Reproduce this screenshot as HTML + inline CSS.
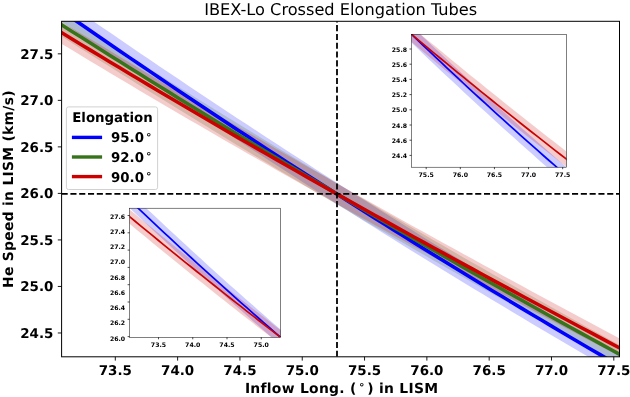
<!DOCTYPE html>
<html><head><meta charset="utf-8"><title>IBEX-Lo Crossed Elongation Tubes</title>
<style>html,body{margin:0;padding:0;background:#fff}svg{display:block;will-change:transform;text-rendering:geometricPrecision}</style></head>
<body>
<svg width="630" height="397" viewBox="0 0 630 397">
<defs><clipPath id="cm"><rect x="61.6" y="21.3" width="557.9" height="335.5"/></clipPath></defs>
<rect width="630" height="397" fill="#fff"/>
<g clip-path="url(#cm)">
<path d="M51.60,-7.73 L61.39,-0.92 L71.19,5.88 L80.98,12.65 L90.78,19.41 L100.57,26.15 L110.37,32.87 L120.16,39.57 L129.96,46.25 L139.75,52.91 L149.55,59.54 L159.34,66.16 L169.14,72.76 L178.93,79.34 L188.73,85.90 L198.52,92.44 L208.32,98.96 L218.11,105.47 L227.91,111.95 L237.70,118.41 L247.50,124.85 L257.29,131.27 L267.09,137.67 L276.88,144.05 L286.68,150.42 L296.47,156.76 L306.27,163.08 L316.06,169.38 L325.86,175.66 L335.65,181.93 L345.45,188.17 L355.24,194.39 L365.04,200.60 L374.83,206.78 L384.63,212.94 L394.42,219.09 L404.22,225.21 L414.01,231.31 L423.81,237.40 L433.60,243.46 L443.40,249.51 L453.19,255.53 L462.99,261.54 L472.78,267.52 L482.58,273.49 L492.37,279.43 L502.17,285.36 L511.96,291.27 L521.76,297.15 L531.55,303.02 L541.35,308.86 L551.14,314.69 L560.94,320.50 L570.73,326.29 L580.53,332.05 L590.32,337.80 L600.12,343.53 L609.91,349.23 L619.71,354.92 L629.50,360.58 L629.50,380.58 L619.71,374.92 L609.91,369.28 L600.12,363.61 L590.32,357.92 L580.53,352.22 L570.73,346.49 L560.94,340.75 L551.14,334.98 L541.35,329.20 L531.55,323.39 L521.76,317.57 L511.96,311.72 L502.17,305.86 L492.37,299.97 L482.58,294.07 L472.78,288.15 L462.99,282.20 L453.19,276.24 L443.40,270.26 L433.60,264.25 L423.81,258.23 L414.01,252.19 L404.22,246.13 L394.42,240.04 L384.63,233.94 L374.83,227.82 L365.04,221.68 L355.24,215.52 L345.45,209.33 L335.65,203.13 L325.86,196.91 L316.06,190.67 L306.27,184.40 L296.47,178.12 L286.68,171.82 L276.88,165.49 L267.09,159.15 L257.29,152.79 L247.50,146.41 L237.70,140.00 L227.91,133.58 L218.11,127.14 L208.32,120.68 L198.52,114.20 L188.73,107.70 L178.93,101.18 L169.14,94.63 L159.34,88.07 L149.55,81.49 L139.75,74.89 L129.96,68.27 L120.16,61.63 L110.37,54.97 L100.57,48.29 L90.78,41.60 L80.98,34.88 L71.19,28.14 L61.39,21.38 L51.60,14.57Z" fill="#0000ff" fill-opacity="0.2"/>
<path d="M51.60,6.79 L61.39,13.05 L71.19,19.32 L80.98,25.58 L90.78,31.82 L100.57,38.05 L110.37,44.26 L120.16,50.46 L129.96,56.64 L139.75,62.80 L149.55,68.94 L159.34,75.07 L169.14,81.19 L178.93,87.29 L188.73,93.37 L198.52,99.43 L208.32,105.48 L218.11,111.52 L227.91,117.54 L237.70,123.54 L247.50,129.52 L257.29,135.49 L267.09,141.44 L276.88,147.38 L286.68,153.30 L296.47,159.20 L306.27,165.09 L316.06,170.96 L325.86,176.82 L335.65,182.66 L345.45,188.49 L355.24,194.30 L365.04,200.09 L374.83,205.87 L384.63,211.63 L394.42,217.37 L404.22,223.10 L414.01,228.82 L423.81,234.51 L433.60,240.19 L443.40,245.86 L453.19,251.51 L462.99,257.14 L472.78,262.75 L482.58,268.35 L492.37,273.94 L502.17,279.51 L511.96,285.06 L521.76,290.59 L531.55,296.11 L541.35,301.62 L551.14,307.10 L560.94,312.57 L570.73,318.03 L580.53,323.47 L590.32,328.89 L600.12,334.30 L609.91,339.69 L619.71,345.06 L629.50,350.37 L629.50,368.97 L619.71,363.66 L609.91,358.37 L600.12,353.07 L590.32,347.75 L580.53,342.41 L570.73,337.06 L560.94,331.69 L551.14,326.31 L541.35,320.91 L531.55,315.49 L521.76,310.06 L511.96,304.61 L502.17,299.14 L492.37,293.66 L482.58,288.17 L472.78,282.65 L462.99,277.12 L453.19,271.58 L443.40,266.02 L433.60,260.44 L423.81,254.84 L414.01,249.23 L404.22,243.61 L394.42,237.97 L384.63,232.31 L374.83,226.63 L365.04,220.94 L355.24,215.23 L345.45,209.51 L335.65,203.77 L325.86,198.01 L316.06,192.22 L306.27,186.43 L296.47,180.61 L286.68,174.78 L276.88,168.94 L267.09,163.08 L257.29,157.20 L247.50,151.30 L237.70,145.39 L227.91,139.47 L218.11,133.52 L208.32,127.57 L198.52,121.59 L188.73,115.60 L178.93,109.59 L169.14,103.57 L159.34,97.53 L149.55,91.47 L139.75,85.40 L129.96,79.31 L120.16,73.21 L110.37,67.09 L100.57,60.95 L90.78,54.80 L80.98,48.63 L71.19,42.45 L61.39,36.25 L51.60,29.99Z" fill="#36731a" fill-opacity="0.2"/>
<path d="M51.60,15.96 L61.39,21.96 L71.19,27.77 L80.98,33.56 L90.78,39.33 L100.57,45.09 L110.37,51.02 L120.16,56.94 L129.96,62.83 L139.75,68.71 L149.55,74.57 L159.34,80.41 L169.14,86.23 L178.93,92.03 L188.73,97.82 L198.52,103.59 L208.32,109.34 L218.11,115.08 L227.91,120.79 L237.70,126.50 L247.50,132.18 L257.29,137.85 L267.09,143.51 L276.88,149.14 L286.68,154.77 L296.47,160.37 L306.27,165.96 L316.06,171.54 L325.86,177.10 L335.65,182.65 L345.45,188.20 L355.24,193.73 L365.04,199.25 L374.83,204.75 L384.63,210.25 L394.42,215.73 L404.22,221.19 L414.01,226.64 L423.81,232.08 L433.60,237.51 L443.40,242.93 L453.19,248.33 L462.99,253.72 L472.78,259.10 L482.58,264.47 L492.37,269.83 L502.17,275.17 L511.96,280.51 L521.76,285.83 L531.55,291.15 L541.35,296.45 L551.14,301.75 L560.94,307.03 L570.73,312.30 L580.53,317.57 L590.32,322.83 L600.12,328.07 L609.91,333.31 L619.71,338.54 L629.50,343.72 L629.50,361.52 L619.71,356.34 L609.91,351.21 L600.12,346.07 L590.32,340.92 L580.53,335.76 L570.73,330.59 L560.94,325.41 L551.14,320.22 L541.35,315.03 L531.55,309.82 L521.76,304.60 L511.96,299.37 L502.17,294.14 L492.37,288.89 L482.58,283.63 L472.78,278.36 L462.99,273.07 L453.19,267.78 L443.40,262.47 L433.60,257.15 L423.81,251.82 L414.01,246.48 L404.22,241.12 L394.42,235.76 L384.63,230.37 L374.83,224.98 L365.04,219.57 L355.24,214.15 L345.45,208.71 L335.65,203.26 L325.86,197.78 L316.06,192.28 L306.27,186.77 L296.47,181.25 L286.68,175.71 L276.88,170.15 L267.09,164.58 L257.29,158.99 L247.50,153.39 L237.70,147.77 L227.91,142.13 L218.11,136.48 L208.32,130.81 L198.52,125.12 L188.73,119.42 L178.93,113.70 L169.14,107.96 L159.34,102.21 L149.55,96.43 L139.75,90.64 L129.96,84.83 L120.16,79.00 L110.37,73.15 L100.57,67.29 L90.78,61.41 L80.98,55.51 L71.19,49.60 L61.39,43.66 L51.60,37.66Z" fill="#cc0000" fill-opacity="0.2"/>
<path d="M51.60,3.97 L61.39,10.78 L71.19,17.56 L80.98,24.33 L90.78,31.08 L100.57,37.81 L110.37,44.52 L120.16,51.20 L129.96,57.87 L139.75,64.52 L149.55,71.15 L159.34,77.76 L169.14,84.35 L178.93,90.92 L188.73,97.47 L198.52,104.00 L208.32,110.51 L218.11,117.00 L227.91,123.47 L237.70,129.92 L247.50,136.35 L257.29,142.76 L267.09,149.15 L276.88,155.52 L286.68,161.87 L296.47,168.20 L306.27,174.51 L316.06,180.80 L325.86,187.08 L335.65,193.33 L345.45,199.56 L355.24,205.77 L365.04,211.97 L374.83,218.14 L384.63,224.29 L394.42,230.43 L404.22,236.54 L414.01,242.63 L423.81,248.71 L433.60,254.76 L443.40,260.80 L453.19,266.81 L462.99,272.80 L472.78,278.78 L482.58,284.73 L492.37,290.67 L502.17,296.58 L511.96,302.48 L521.76,308.36 L531.55,314.21 L541.35,320.05 L551.14,325.86 L560.94,331.66 L570.73,337.44 L580.53,343.19 L590.32,348.93 L600.12,354.65 L609.91,360.35 L619.71,366.02 L629.50,371.68" fill="none" stroke="#0000ff" stroke-width="3.55"/>
<path d="M51.60,18.39 L61.39,24.65 L71.19,30.88 L80.98,37.10 L90.78,43.31 L100.57,49.49 L110.37,55.67 L120.16,61.82 L129.96,67.96 L139.75,74.09 L149.55,80.19 L159.34,86.28 L169.14,92.36 L178.93,98.42 L188.73,104.46 L198.52,110.49 L208.32,116.50 L218.11,122.49 L227.91,128.47 L237.70,134.43 L247.50,140.38 L257.29,146.31 L267.09,152.22 L276.88,158.12 L286.68,164.00 L296.47,169.87 L306.27,175.72 L316.06,181.55 L325.86,187.36 L335.65,193.17 L345.45,198.95 L355.24,204.72 L365.04,210.47 L374.83,216.21 L384.63,221.93 L394.42,227.63 L404.22,233.32 L414.01,238.99 L423.81,244.64 L433.60,250.28 L443.40,255.91 L453.19,261.51 L462.99,267.10 L472.78,272.68 L482.58,278.24 L492.37,283.78 L502.17,289.30 L511.96,294.81 L521.76,300.31 L531.55,305.79 L541.35,311.25 L551.14,316.69 L560.94,322.12 L570.73,327.54 L580.53,332.93 L590.32,338.31 L600.12,343.68 L609.91,349.03 L619.71,354.36 L629.50,359.67" fill="none" stroke="#36731a" stroke-width="3.55"/>
<path d="M51.60,26.46 L61.39,32.46 L71.19,38.45 L80.98,44.42 L90.78,50.36 L100.57,56.29 L110.37,62.20 L120.16,68.09 L129.96,73.96 L139.75,79.81 L149.55,85.64 L159.34,91.46 L169.14,97.25 L178.93,103.03 L188.73,108.79 L198.52,114.54 L208.32,120.27 L218.11,125.98 L227.91,131.67 L237.70,137.35 L247.50,143.01 L257.29,148.65 L267.09,154.28 L276.88,159.90 L286.68,165.49 L296.47,171.08 L306.27,176.64 L316.06,182.20 L325.86,187.73 L335.65,193.26 L345.45,198.76 L355.24,204.26 L365.04,209.74 L374.83,215.21 L384.63,220.66 L394.42,226.10 L404.22,231.53 L414.01,236.94 L423.81,242.35 L433.60,247.74 L443.40,253.11 L453.19,258.48 L462.99,263.83 L472.78,269.17 L482.58,274.50 L492.37,279.82 L502.17,285.13 L511.96,290.43 L521.76,295.71 L531.55,300.99 L541.35,306.26 L551.14,311.51 L560.94,316.76 L570.73,321.99 L580.53,327.22 L590.32,332.44 L600.12,337.65 L609.91,342.85 L619.71,348.04 L629.50,353.22" fill="none" stroke="#cc0000" stroke-width="3.55"/>
<path d="M61.6,193.8 H619.5" stroke="#000" stroke-width="1.8" stroke-dasharray="6.1 2.7" fill="none"/>
<path d="M337.0,356.8 V21.3" stroke="#000" stroke-width="1.8" stroke-dasharray="6.1 2.7" fill="none"/>
</g>
<rect x="61.6" y="21.3" width="557.9" height="335.5" fill="none" stroke="#000" stroke-width="1.0"/>
<g font-family="'DejaVu Sans','Liberation Sans',sans-serif" font-weight="bold" font-size="13.45" fill="#000">
<path d="M115.30,356.8 v3.8" stroke="#000" stroke-width="0.9"/>
<text x="115.30" y="374.7" text-anchor="middle">73.5</text>
<path d="M177.61,356.8 v3.8" stroke="#000" stroke-width="0.9"/>
<text x="177.61" y="374.7" text-anchor="middle">74.0</text>
<path d="M239.93,356.8 v3.8" stroke="#000" stroke-width="0.9"/>
<text x="239.93" y="374.7" text-anchor="middle">74.5</text>
<path d="M302.24,356.8 v3.8" stroke="#000" stroke-width="0.9"/>
<text x="302.24" y="374.7" text-anchor="middle">75.0</text>
<path d="M364.55,356.8 v3.8" stroke="#000" stroke-width="0.9"/>
<text x="364.55" y="374.7" text-anchor="middle">75.5</text>
<path d="M426.86,356.8 v3.8" stroke="#000" stroke-width="0.9"/>
<text x="426.86" y="374.7" text-anchor="middle">76.0</text>
<path d="M489.18,356.8 v3.8" stroke="#000" stroke-width="0.9"/>
<text x="489.18" y="374.7" text-anchor="middle">76.5</text>
<path d="M551.49,356.8 v3.8" stroke="#000" stroke-width="0.9"/>
<text x="551.49" y="374.7" text-anchor="middle">77.0</text>
<path d="M613.80,356.8 v3.8" stroke="#000" stroke-width="0.9"/>
<text x="613.80" y="374.7" text-anchor="middle">77.5</text>
<path d="M61.6,332.98 h-3.8" stroke="#000" stroke-width="0.9"/>
<text x="53.4" y="337.73" text-anchor="end">24.5</text>
<path d="M61.6,286.45 h-3.8" stroke="#000" stroke-width="0.9"/>
<text x="53.4" y="291.20" text-anchor="end">25.0</text>
<path d="M61.6,239.93 h-3.8" stroke="#000" stroke-width="0.9"/>
<text x="53.4" y="244.68" text-anchor="end">25.5</text>
<path d="M61.6,193.40 h-3.8" stroke="#000" stroke-width="0.9"/>
<text x="53.4" y="198.15" text-anchor="end">26.0</text>
<path d="M61.6,146.88 h-3.8" stroke="#000" stroke-width="0.9"/>
<text x="53.4" y="151.62" text-anchor="end">26.5</text>
<path d="M61.6,100.35 h-3.8" stroke="#000" stroke-width="0.9"/>
<text x="53.4" y="105.10" text-anchor="end">27.0</text>
<path d="M61.6,53.83 h-3.8" stroke="#000" stroke-width="0.9"/>
<text x="53.4" y="58.58" text-anchor="end">27.5</text>
<text x="244.9" y="393.2" font-size="13.9" letter-spacing="0.28">Inflow Long. (<tspan font-size="10.5" dx="1.9" dy="-4.9">&#8728;</tspan><tspan dx="1.9" dy="4.9">) in LISM</tspan></text>
<text transform="translate(13.2,189) rotate(-90)" text-anchor="middle" font-size="13.9" letter-spacing="0.28">He Speed in LISM (km/s)</text>
</g>
<text x="340.7" y="14.8" text-anchor="middle" font-family="'DejaVu Sans','Liberation Sans',sans-serif" font-size="16.18" fill="#000">IBEX-Lo Crossed Elongation Tubes</text>
<rect x="66.4" y="106.9" width="91.2" height="82.6" rx="2.2" fill="#fff" fill-opacity="0.8" stroke="#ccc" stroke-width="0.9"/>
<g font-family="'DejaVu Sans','Liberation Sans',sans-serif" font-weight="bold" font-size="13.35" fill="#000">
<text x="72.2" y="122.4">Elongation</text>
<path d="M71.9,137.40 H102.1" stroke="#0000ff" stroke-width="3.4"/>
<text x="111.0" y="142.30">95.0<tspan font-size="10.5" dx="1.6" dy="-4.6">&#8728;</tspan></text>
<path d="M71.9,157.00 H102.1" stroke="#36731a" stroke-width="3.4"/>
<text x="111.0" y="161.90">92.0<tspan font-size="10.5" dx="1.6" dy="-4.6">&#8728;</tspan></text>
<path d="M71.9,176.60 H102.1" stroke="#cc0000" stroke-width="3.4"/>
<text x="111.0" y="181.50">90.0<tspan font-size="10.5" dx="1.6" dy="-4.6">&#8728;</tspan></text>
</g>
<defs><clipPath id="c1"><rect x="129.6" y="208.2" width="151.00000000000003" height="129.10000000000002"/></clipPath></defs>
<rect x="129.6" y="208.2" width="151.00000000000003" height="129.10000000000002" fill="#fff"/>
<g clip-path="url(#c1)">
<path d="M124.60,187.54 L130.15,192.84 L135.70,198.12 L141.26,203.39 L146.81,208.64 L152.36,213.87 L157.91,219.08 L163.46,224.27 L169.01,229.44 L174.57,234.60 L180.12,239.73 L185.67,244.85 L191.22,249.95 L196.77,255.03 L202.32,260.09 L207.88,265.14 L213.43,270.16 L218.98,275.17 L224.53,280.16 L230.08,285.13 L235.63,290.08 L241.19,295.01 L246.74,299.93 L252.29,304.82 L257.84,309.70 L263.39,314.56 L268.94,319.40 L274.50,324.22 L280.05,329.02 L285.60,333.81 L285.60,349.41 L280.05,344.62 L274.50,339.82 L268.94,335.00 L263.39,330.16 L257.84,325.30 L252.29,320.42 L246.74,315.53 L241.19,310.61 L235.63,305.68 L230.08,300.73 L224.53,295.76 L218.98,290.77 L213.43,285.76 L207.88,280.74 L202.32,275.69 L196.77,270.63 L191.22,265.55 L185.67,260.45 L180.12,255.33 L174.57,250.20 L169.01,245.04 L163.46,239.87 L157.91,234.68 L152.36,229.47 L146.81,224.24 L141.26,218.99 L135.70,213.72 L130.15,208.44 L124.60,203.14Z" fill="#0000ff" fill-opacity="0.2"/>
<path d="M124.60,205.35 L130.15,209.96 L135.70,214.55 L141.26,219.13 L146.81,223.70 L152.36,228.26 L157.91,232.81 L163.46,237.34 L169.01,241.86 L174.57,246.37 L180.12,250.86 L185.67,255.35 L191.22,259.82 L196.77,264.28 L202.32,268.72 L207.88,273.16 L213.43,277.58 L218.98,281.99 L224.53,286.38 L230.08,290.77 L235.63,295.14 L241.19,299.50 L246.74,303.85 L252.29,308.18 L257.84,312.51 L263.39,316.82 L268.94,321.12 L274.50,325.40 L280.05,329.68 L285.60,333.94 L285.60,348.34 L280.05,344.08 L274.50,339.80 L268.94,335.52 L263.39,331.22 L257.84,326.91 L252.29,322.58 L246.74,318.25 L241.19,313.90 L235.63,309.54 L230.08,305.17 L224.53,300.78 L218.98,296.39 L213.43,291.98 L207.88,287.56 L202.32,283.12 L196.77,278.68 L191.22,274.22 L185.67,269.75 L180.12,265.26 L174.57,260.77 L169.01,256.26 L163.46,251.74 L157.91,247.21 L152.36,242.66 L146.81,238.10 L141.26,233.53 L135.70,228.95 L130.15,224.36 L124.60,219.75Z" fill="#cc0000" fill-opacity="0.2"/>
<path d="M124.60,195.34 L130.15,200.64 L135.70,205.92 L141.26,211.19 L146.81,216.44 L152.36,221.67 L157.91,226.88 L163.46,232.07 L169.01,237.24 L174.57,242.40 L180.12,247.53 L185.67,252.65 L191.22,257.75 L196.77,262.83 L202.32,267.89 L207.88,272.94 L213.43,277.96 L218.98,282.97 L224.53,287.96 L230.08,292.93 L235.63,297.88 L241.19,302.81 L246.74,307.73 L252.29,312.62 L257.84,317.50 L263.39,322.36 L268.94,327.20 L274.50,332.02 L280.05,336.82 L285.60,341.61" fill="none" stroke="#0000ff" stroke-width="1.7"/>
<path d="M124.60,212.55 L130.15,217.16 L135.70,221.75 L141.26,226.33 L146.81,230.90 L152.36,235.46 L157.91,240.01 L163.46,244.54 L169.01,249.06 L174.57,253.57 L180.12,258.06 L185.67,262.55 L191.22,267.02 L196.77,271.48 L202.32,275.92 L207.88,280.36 L213.43,284.78 L218.98,289.19 L224.53,293.58 L230.08,297.97 L235.63,302.34 L241.19,306.70 L246.74,311.05 L252.29,315.38 L257.84,319.71 L263.39,324.02 L268.94,328.32 L274.50,332.60 L280.05,336.88 L285.60,341.14" fill="none" stroke="#cc0000" stroke-width="1.7"/>
</g>
<rect x="129.6" y="208.2" width="151.00000000000003" height="129.10000000000002" fill="none" stroke="#000" stroke-width="0.5"/>
<g font-family="'DejaVu Sans','Liberation Sans',sans-serif" font-weight="bold" font-size="6.2" fill="#000">
<path d="M158.50,337.3 v2.0" stroke="#000" stroke-width="0.7"/>
<text x="158.50" y="347.20" text-anchor="middle">73.5</text>
<path d="M192.75,337.3 v2.0" stroke="#000" stroke-width="0.7"/>
<text x="192.75" y="347.20" text-anchor="middle">74.0</text>
<path d="M227.00,337.3 v2.0" stroke="#000" stroke-width="0.7"/>
<text x="227.00" y="347.20" text-anchor="middle">74.5</text>
<path d="M261.25,337.3 v2.0" stroke="#000" stroke-width="0.7"/>
<text x="261.25" y="347.20" text-anchor="middle">75.0</text>
<path d="M129.6,215.50 h-2.0" stroke="#000" stroke-width="0.7"/>
<path d="M129.6,232.80 h-2.0" stroke="#000" stroke-width="0.7"/>
<path d="M129.6,250.10 h-2.0" stroke="#000" stroke-width="0.7"/>
<path d="M129.6,267.40 h-2.0" stroke="#000" stroke-width="0.7"/>
<path d="M129.6,284.70 h-2.0" stroke="#000" stroke-width="0.7"/>
<path d="M129.6,302.00 h-2.0" stroke="#000" stroke-width="0.7"/>
<path d="M129.6,319.30 h-2.0" stroke="#000" stroke-width="0.7"/>
<path d="M129.6,336.60 h-2.0" stroke="#000" stroke-width="0.7"/>
<text x="125.20" y="218.60" text-anchor="end">27.6</text>
<text x="125.20" y="233.85" text-anchor="end">27.4</text>
<text x="125.20" y="249.10" text-anchor="end">27.2</text>
<text x="125.20" y="264.35" text-anchor="end">27.0</text>
<text x="125.20" y="279.60" text-anchor="end">26.8</text>
<text x="125.20" y="294.85" text-anchor="end">26.6</text>
<text x="125.20" y="310.10" text-anchor="end">26.4</text>
<text x="125.20" y="325.35" text-anchor="end">26.2</text>
<text x="125.20" y="340.60" text-anchor="end">26.0</text>
</g>
<defs><clipPath id="c2"><rect x="411.5" y="34.3" width="155.0" height="132.89999999999998"/></clipPath></defs>
<rect x="411.5" y="34.3" width="155.0" height="132.89999999999998" fill="#fff"/>
<g clip-path="url(#c2)">
<path d="M406.50,21.10 L412.19,26.56 L417.88,32.00 L423.57,37.43 L429.26,42.83 L434.95,48.22 L440.64,53.58 L446.33,58.93 L452.02,64.26 L457.71,69.56 L463.40,74.85 L469.09,80.12 L474.78,85.37 L480.47,90.60 L486.16,95.81 L491.84,101.00 L497.53,106.17 L503.22,111.33 L508.91,116.46 L514.60,121.57 L520.29,126.67 L525.98,131.74 L531.67,136.79 L537.36,141.83 L543.05,146.85 L548.74,151.84 L554.43,156.82 L560.12,161.78 L565.81,166.72 L571.50,171.64 L571.50,188.44 L565.81,183.52 L560.12,178.58 L554.43,173.62 L548.74,168.64 L543.05,163.65 L537.36,158.63 L531.67,153.59 L525.98,148.54 L520.29,143.47 L514.60,138.37 L508.91,133.26 L503.22,128.13 L497.53,122.97 L491.84,117.80 L486.16,112.61 L480.47,107.40 L474.78,102.17 L469.09,96.92 L463.40,91.65 L457.71,86.36 L452.02,81.06 L446.33,75.73 L440.64,70.38 L434.95,65.02 L429.26,59.63 L423.57,54.23 L417.88,48.80 L412.19,43.36 L406.50,37.90Z" fill="#0000ff" fill-opacity="0.2"/>
<path d="M406.50,22.41 L412.19,27.18 L417.88,31.93 L423.57,36.67 L429.26,41.40 L434.95,46.11 L440.64,50.81 L446.33,55.50 L452.02,60.18 L457.71,64.84 L463.40,69.49 L469.09,74.13 L474.78,78.75 L480.47,83.36 L486.16,87.96 L491.84,92.54 L497.53,97.11 L503.22,101.67 L508.91,106.22 L514.60,110.75 L520.29,115.27 L525.98,119.78 L531.67,124.27 L537.36,128.75 L543.05,133.22 L548.74,137.68 L554.43,142.12 L560.12,146.55 L565.81,150.97 L571.50,155.37 L571.50,170.77 L565.81,166.37 L560.12,161.95 L554.43,157.52 L548.74,153.08 L543.05,148.62 L537.36,144.15 L531.67,139.67 L525.98,135.18 L520.29,130.67 L514.60,126.15 L508.91,121.62 L503.22,117.07 L497.53,112.51 L491.84,107.94 L486.16,103.36 L480.47,98.76 L474.78,94.15 L469.09,89.53 L463.40,84.89 L457.71,80.24 L452.02,75.58 L446.33,70.90 L440.64,66.21 L434.95,61.51 L429.26,56.80 L423.57,52.07 L417.88,47.33 L412.19,42.58 L406.50,37.81Z" fill="#cc0000" fill-opacity="0.2"/>
<path d="M406.50,29.50 L412.19,34.96 L417.88,40.40 L423.57,45.83 L429.26,51.23 L434.95,56.62 L440.64,61.98 L446.33,67.33 L452.02,72.66 L457.71,77.96 L463.40,83.25 L469.09,88.52 L474.78,93.77 L480.47,99.00 L486.16,104.21 L491.84,109.40 L497.53,114.57 L503.22,119.73 L508.91,124.86 L514.60,129.97 L520.29,135.07 L525.98,140.14 L531.67,145.19 L537.36,150.23 L543.05,155.25 L548.74,160.24 L554.43,165.22 L560.12,170.18 L565.81,175.12 L571.50,180.04" fill="none" stroke="#0000ff" stroke-width="1.7"/>
<path d="M406.50,30.11 L412.19,34.88 L417.88,39.63 L423.57,44.37 L429.26,49.10 L434.95,53.81 L440.64,58.51 L446.33,63.20 L452.02,67.88 L457.71,72.54 L463.40,77.19 L469.09,81.83 L474.78,86.45 L480.47,91.06 L486.16,95.66 L491.84,100.24 L497.53,104.81 L503.22,109.37 L508.91,113.92 L514.60,118.45 L520.29,122.97 L525.98,127.48 L531.67,131.97 L537.36,136.45 L543.05,140.92 L548.74,145.38 L554.43,149.82 L560.12,154.25 L565.81,158.67 L571.50,163.07" fill="none" stroke="#cc0000" stroke-width="1.7"/>
</g>
<rect x="411.5" y="34.3" width="155.0" height="132.89999999999998" fill="none" stroke="#000" stroke-width="0.5"/>
<g font-family="'DejaVu Sans','Liberation Sans',sans-serif" font-weight="bold" font-size="6.2" fill="#000">
<path d="M426.20,167.2 v2.0" stroke="#000" stroke-width="0.7"/>
<text x="426.20" y="177.10" text-anchor="middle">75.5</text>
<path d="M460.32,167.2 v2.0" stroke="#000" stroke-width="0.7"/>
<text x="460.32" y="177.10" text-anchor="middle">76.0</text>
<path d="M494.44,167.2 v2.0" stroke="#000" stroke-width="0.7"/>
<text x="494.44" y="177.10" text-anchor="middle">76.5</text>
<path d="M528.56,167.2 v2.0" stroke="#000" stroke-width="0.7"/>
<text x="528.56" y="177.10" text-anchor="middle">77.0</text>
<path d="M562.68,167.2 v2.0" stroke="#000" stroke-width="0.7"/>
<text x="562.68" y="177.10" text-anchor="middle">77.5</text>
<path d="M411.5,49.00 h-2.0" stroke="#000" stroke-width="0.7"/>
<path d="M411.5,64.20 h-2.0" stroke="#000" stroke-width="0.7"/>
<path d="M411.5,79.40 h-2.0" stroke="#000" stroke-width="0.7"/>
<path d="M411.5,94.60 h-2.0" stroke="#000" stroke-width="0.7"/>
<path d="M411.5,109.80 h-2.0" stroke="#000" stroke-width="0.7"/>
<path d="M411.5,125.00 h-2.0" stroke="#000" stroke-width="0.7"/>
<path d="M411.5,140.20 h-2.0" stroke="#000" stroke-width="0.7"/>
<path d="M411.5,155.40 h-2.0" stroke="#000" stroke-width="0.7"/>
<text x="407.10" y="51.60" text-anchor="end">25.8</text>
<text x="407.10" y="66.80" text-anchor="end">25.6</text>
<text x="407.10" y="82.00" text-anchor="end">25.4</text>
<text x="407.10" y="97.20" text-anchor="end">25.2</text>
<text x="407.10" y="112.40" text-anchor="end">25.0</text>
<text x="407.10" y="127.60" text-anchor="end">24.8</text>
<text x="407.10" y="142.80" text-anchor="end">24.6</text>
<text x="407.10" y="158.00" text-anchor="end">24.4</text>
</g>
</svg>
</body></html>
